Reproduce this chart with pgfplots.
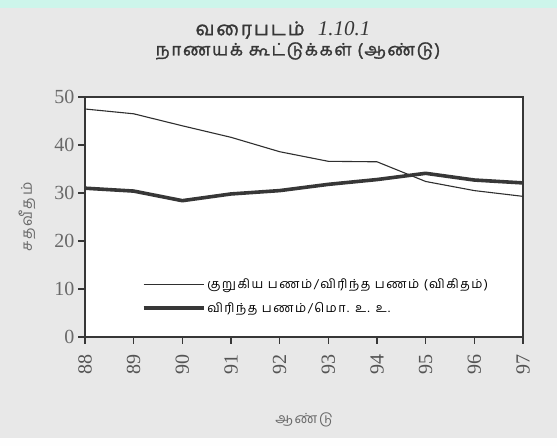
\documentclass[border=0pt]{standalone}
\usepackage{pgfplots}
\pgfplotsset{compat=1.18}
\usepackage{fontspec}
\setmainfont{Liberation Serif}
\newfontfamily\tamil[Script=Tamil]{Hind Madurai}
\newfontfamily\tamilwide[Script=Tamil,LetterSpace=12]{Hind Madurai}
\newfontfamily\tamiltitle[Script=Tamil,LetterSpace=10,FakeBold=1.5]{Hind Madurai}
\definecolor{bggray}{RGB}{232,232,232}
\definecolor{topcyan}{RGB}{205,245,235}
\definecolor{ink}{RGB}{55,55,55}
\definecolor{tickgray}{RGB}{105,105,105}
\begin{document}
\begin{tikzpicture}[x=1pt,y=1pt]
\fill[bggray] (0,0) rectangle (557,446);
\fill[topcyan] (0,438) rectangle (557,446);
\fill[white!96!bggray] (0,0) rectangle (557,8);
\node[ink,font=\tamiltitle\fontsize{19}{21}\selectfont] at (283,416) {வரைபடம்~~{\rmfamily\itshape\fontsize{21}{22}\selectfont 1.10.1}};
\node[ink,font=\tamiltitle\fontsize{17}{20}\selectfont] at (298,395) {நாணயக் கூட்டுக்கள் (ஆண்டு)};
\begin{axis}[
  at={(85pt,109pt)}, anchor=south west,
  width=438pt, height=240pt, scale only axis,
  xmin=88, xmax=97, ymin=0, ymax=50,
  xtick={88,...,97}, ytick={0,10,...,50},
  xtick pos=left, ytick pos=left, tick align=outside,
  major tick length=7pt,
  axis line style={draw=ink, line width=1.2pt},
  tick style={draw=ink, line width=1.2pt},
  axis background/.style={fill=white},
  /pgf/number format/assume math mode=true,
  xticklabel style={rotate=90, anchor=east, inner xsep=10pt, font=\fontsize{20}{21}\selectfont, text=tickgray!80!black},
  yticklabel style={font=\fontsize{20}{21}\selectfont, text=tickgray},
  ylabel={\tamilwide\itshape சதவீதம்},
  ylabel style={font=\fontsize{15}{17}\selectfont, text=tickgray, at={(axis description cs:-0.105,0.5)}},
  xlabel={\tamilwide ஆண்டு},
  xlabel style={font=\fontsize{14}{16}\selectfont, text=tickgray, at={(axis description cs:0.5,-0.30)}},
  legend style={draw=none, fill=none, at={(axis cs:89.1,13.0)}, anchor=north west,
    font=\tamilwide\fontsize{12.5}{15}\selectfont, row sep=8pt, text=black},
  legend cell align=left,
  legend image code/.code={\draw[#1] (0pt,0pt) -- (60pt,0pt);},
]
\addplot[ink!85!black, line width=1.1pt] coordinates {
(88,47.5) (89,46.5) (90,44.0) (91,41.6) (92,38.6) (93,36.6) (94,36.5) (95,32.4) (96,30.5) (97,29.3)};
\addlegendentry{குறுகிய பணம்/விரிந்த பணம் (விகிதம்)}
\addplot[ink, line width=3.6pt, line join=round] coordinates {
(88,31.0) (89,30.4) (90,28.4) (91,29.8) (92,30.5) (93,31.8) (94,32.8) (95,34.1) (96,32.7) (97,32.1)};
\addlegendentry{விரிந்த பணம்/மொ. உ. உ.}
\end{axis}
\end{tikzpicture}
\end{document}
